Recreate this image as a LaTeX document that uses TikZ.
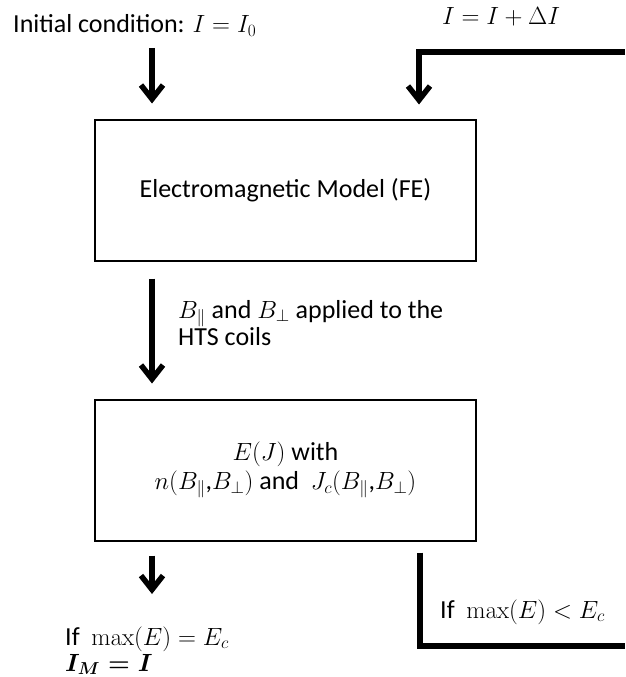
\documentclass[tikz,border=0pt]{standalone}
\usepackage{amsmath}
\usepackage[no-math]{fontspec}
\setmainfont{Carlito}
\usetikzlibrary{arrows.meta}
\begin{document}
\begin{tikzpicture}[x=1pt,y=-1pt,
  font=\fontsize{26}{29}\selectfont,
  box/.style={draw,line width=2pt,minimum width=381pt,minimum height=141pt,align=center,inner sep=0pt},
  flow/.style={line width=5.5pt},
  arr/.style={flow,-{Straight Barb[length=14pt,width=22pt,line width=5.5pt]}},
  lbl/.style={inner sep=0pt,anchor=base west}]
\useasboundingbox (0,0) rectangle (625,677);
\node[box] (fe) at (285.5,190) {Electromagnetic Model (FE)};
\node[box] (ej) at (285.5,470) {$E(J)$ with\\ $n(B_{\|}$,$B_{\perp})$ and \ $J_c(B_{\|}$,$B_{\perp})$};
\node[lbl] (ic) at (13,33) {Initial condition: $I = I_0$};
\node[lbl,anchor=base] (inc) at (501,25) {$I = I + \Delta I$};
\node[lbl] (app1) at (178,318) {$B_{\|}$ and $B_{\perp}$ applied to the};
\node[lbl] (app2) at (178,345) {HTS coils};
\node[lbl] (lt) at (440,618) {If \ $\max(E) < E_c$};
\node[lbl] (eq1) at (65,645) {If \ $\max(E) = E_c$};
\node[lbl] (eq2) at (65,671) {{\boldmath$I_M = I$}};
\coordinate (s1) at (152,48);
\coordinate (r1) at (625,52);
\coordinate (r2) at (419,52);
\coordinate (e1) at (152,594);
\coordinate (q1) at (420,646);
\coordinate (q2) at (625,646);
\draw[arr,shorten >=15pt] (s1) -- (fe.north -| s1);
\draw[arr,shorten >=14pt] (r1) -- (r2) -- (fe.north -| r2);
\draw[arr,shorten <=17pt,shorten >=15pt] (fe.south -| s1) -- (ej.north -| s1);
\draw[arr,shorten <=14pt] (ej.south -| s1) -- (e1);
\draw[flow,shorten <=11pt] (ej.south -| q1) -- (q1) -- (q2);
\end{tikzpicture}
\end{document}
